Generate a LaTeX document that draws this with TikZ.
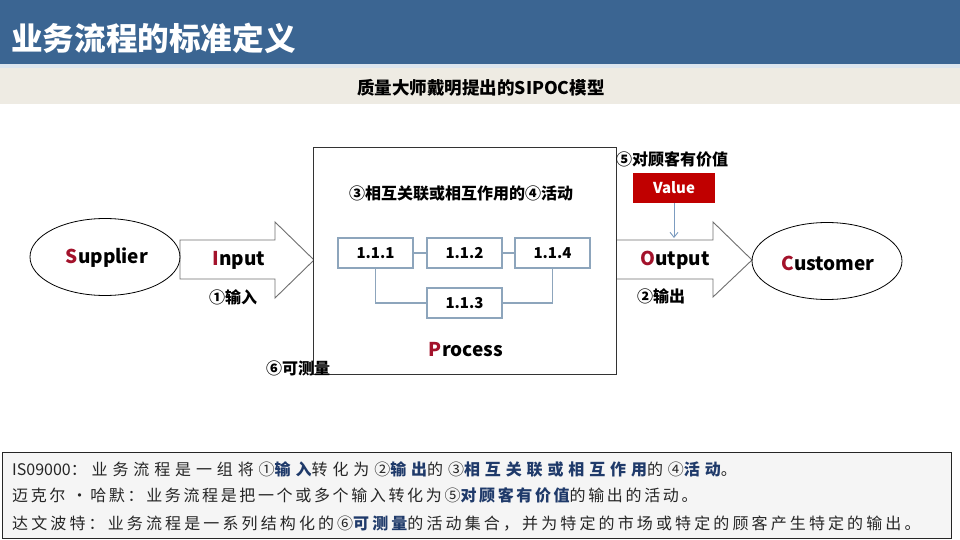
\documentclass[tikz,border=0pt]{standalone}
\usepackage{fontspec}
\setmainfont{Noto Sans CJK SC}
\newfontfamily\bodyA{Noto Sans CJK SC}[LetterSpace=30.5, BoldFeatures={LetterSpace=30.5}]
\newfontfamily\bodyB{Noto Sans CJK SC}[LetterSpace=16.5, BoldFeatures={LetterSpace=16.5}]
\newfontfamily\bodyC{Noto Sans CJK SC}[LetterSpace=19.5, BoldFeatures={LetterSpace=19.5}]
\newfontfamily\bodyplain{Noto Sans CJK SC}
\usetikzlibrary{arrows.meta,shapes.geometric}
\definecolor{headblue}{HTML}{3B6592}
\definecolor{strip}{HTML}{DCE5EE}
\definecolor{band}{HTML}{EEEBE3}
\definecolor{redL}{HTML}{A3122B}
\definecolor{valred}{HTML}{C00000}
\definecolor{boxline}{HTML}{8DA5BC}
\definecolor{navy}{HTML}{1F3A6A}
\definecolor{arrline}{HTML}{6F6F6F}
\definecolor{valarrow}{HTML}{7C9CC0}
\newcommand\hlw[1]{\textcolor{navy}{\bfseries #1}}
\begin{document}
\begin{tikzpicture}[x=1pt,y=-1pt,
  lbl/.style={font=\bfseries\fontsize{16}{18}\selectfont, inner sep=0pt},
  big/.style={font=\bfseries\fontsize{19}{22}\selectfont, inner sep=0pt},
  stepbox/.style={draw=boxline, line width=1.1pt, minimum width=75pt, minimum height=30pt, inner sep=0pt, font=\bfseries\fontsize{15}{18}\selectfont},
  bigarrow/.style={draw=arrline, line width=0.9pt, fill=white},
  oval/.style={ellipse, draw=black, line width=0.8pt, minimum width=150pt, minimum height=77pt, inner sep=0pt},
  bodytext/.style={inner sep=0pt, anchor=west, text=black!85}
]
\useasboundingbox (0,0) rectangle (960,540);
\fill[white] (0,0) rectangle (960,540);
% header
\fill[headblue] (0,0) rectangle (960,64);
\fill[strip] (0,64) rectangle (960,68);
\fill[band] (0,68) rectangle (960,104);
\node[anchor=west, inner sep=0pt, text=white, font=\bfseries\fontsize{31.6}{36}\selectfont] (title) at (11,38) {业务流程的标准定义};
\node[inner sep=0pt, font=\bfseries\fontsize{17.5}{20}\selectfont] (sub) at (481,88) {质量大师戴明提出的SIPOC模型};

% arrows
\draw[bigarrow] (180,240) -- (275,240) -- (275,222) -- (314,260) -- (275,298) -- (275,279) -- (180,279) -- cycle;
\draw[bigarrow] (616,240) -- (713,240) -- (713,222) -- (752,260) -- (713,297) -- (713,279) -- (616,279) -- cycle;

% supplier / customer
\node[oval] (sup) at (105,257) {};
\node[big] (suptext) at (107,258) {\textcolor{redL}{S}upplier};
\node[oval] (cus) at (827,261) {};
\node[big] (custext) at (828,263) {\textcolor{redL}{C}ustomer};

% process box
\node[draw=black!80, line width=0.9pt, fill=white, minimum width=303pt, minimum height=227pt, inner sep=0pt, anchor=north west] (proc) at (313,147) {};
\node[lbl] (act) at (461,193) {③相互关联或相互作用的④活动};
\node[stepbox] (b1) at (375.5,253) {1.1.1};
\node[stepbox] (b2) at (464.5,253) {1.1.2};
\node[stepbox] (b4) at (552.5,253) {1.1.4};
\node[stepbox] (b3) at (464.5,303) {1.1.3};
\draw[boxline, line width=1.1pt] (b1) -- (b2);
\draw[boxline, line width=1.1pt] (b2) -- (b4);
\draw[boxline, line width=1.1pt] (b1.south) |- (b3.west);
\draw[boxline, line width=1.1pt] (b4.south) |- (b3.east);
\node[big] (proctext) at (466,350) {\textcolor{redL}{P}rocess};
\node[lbl] (meas) at (298,368) {⑥可测量};

% arrow labels
\node[big] (inp) at (239,260) {\textcolor{redL}{I}nput};
\node[lbl] (inpl) at (233,297) {①输入};
\node[big] (outp) at (675,260) {\textcolor{redL}{O}utput};
\node[lbl] (outl) at (661,296) {②输出};

% value
\node[lbl, anchor=west] (vall) at (616,159) {⑤对顾客有价值};
\node[fill=valred, minimum width=82pt, minimum height=30pt, inner sep=0pt, text=white, font=\bfseries\fontsize{15}{18}\selectfont] (val) at (674,188) {Value};
\coordinate (vend) at (674,238);
\draw[valarrow, line width=0.9pt, -{Straight Barb[length=5pt,width=8pt]}] (val.south) -- (vend);

% definitions box
\node[draw=black!85, line width=1.2pt, fill=black!4, minimum width=949pt, minimum height=86pt, inner sep=0pt, anchor=north west] (defs) at (2,452) {};
\node[bodytext, font=\bodyA\fontsize{16}{18}\selectfont] (l1) at (12,469) {{\bodyplain IS09000}：业务流程是一组将①\hlw{输入}转化为②\hlw{输出}的③\hlw{相互关联或相互作用}的④\hlw{活动}。};
\node[bodytext, font=\bodyB\fontsize{16}{18}\selectfont] (l2) at (12,495) {迈克尔 •哈默：业务流程是把一个或多个输入转化为⑤\hlw{对顾客有价值}的输出的活动。};
\node[bodytext, font=\bodyC\fontsize{16}{18}\selectfont] (l3) at (12,524) {达文波特：业务流程是一系列结构化的⑥\hlw{可测量}的活动集合，并为特定的市场或特定的顾客产生特定的输出。};
\end{tikzpicture}
\end{document}
